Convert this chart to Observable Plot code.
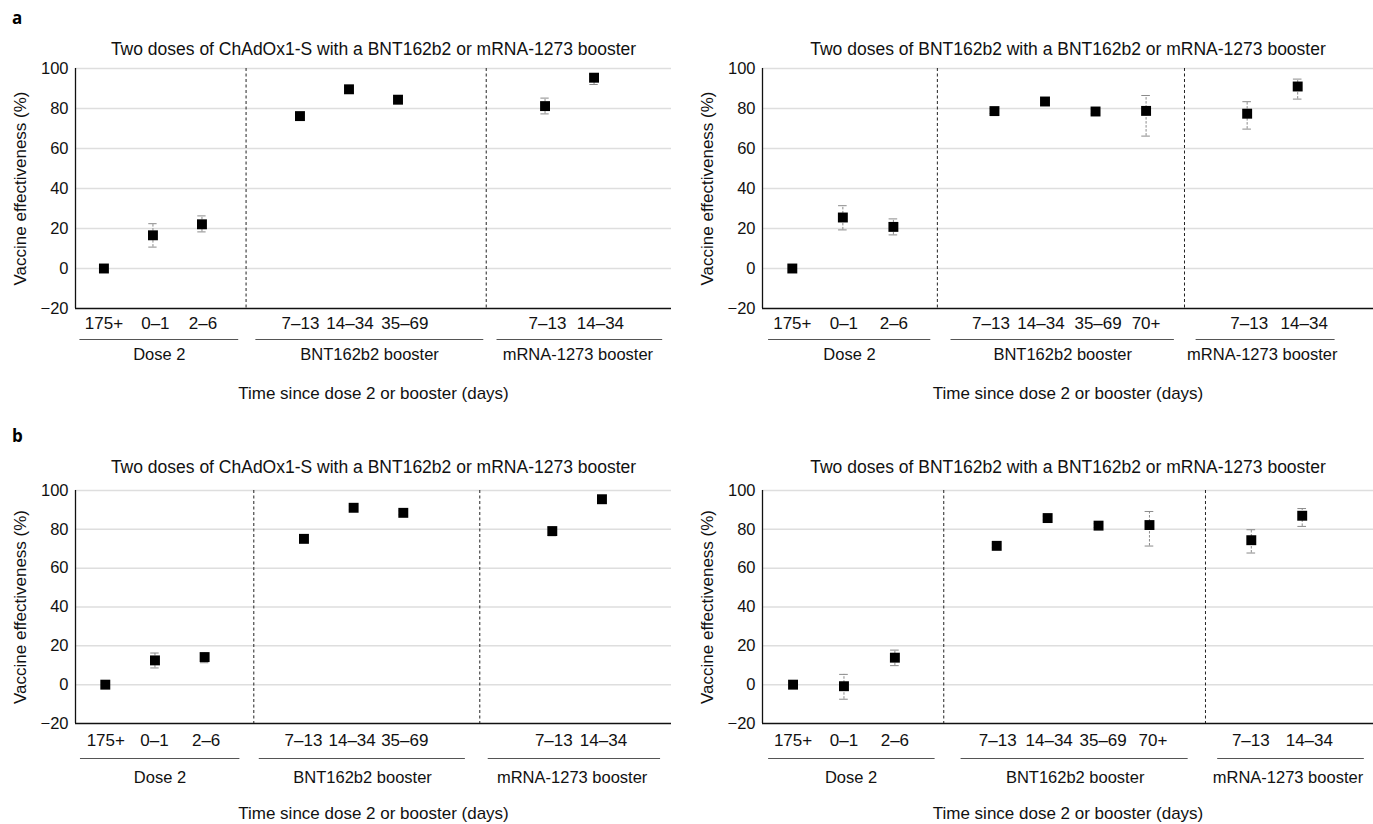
<!DOCTYPE html>
<html>
<head>
<meta charset="utf-8">
<script src="https://cdn.jsdelivr.net/npm/d3@7"></script>
<script src="https://cdn.jsdelivr.net/npm/@observablehq/plot@0.6"></script>
<style>
  html, body { margin: 0; padding: 0; background: #fff; }
  #root { position: relative; width: 1373px; height: 824px; overflow: hidden; font-family: "Liberation Sans", Arial, Helvetica, sans-serif; }
  .panel { position: absolute; }
  .tag { position: absolute; font-family: "Open Sans", "DejaVu Sans", sans-serif; font-weight: 700; font-size: 17px; line-height: 1; }
</style>
</head>
<body>
<div id="root"></div>
<script>
// ---------- data ----------
const titleChAd = "Two doses of ChAdOx1-S with a BNT162b2 or mRNA-1273 booster";
const titleBNT = "Two doses of BNT162b2 with a BNT162b2 or mRNA-1273 booster";
const yLabel = "Vaccine effectiveness (%)";
const xTitle = "Time since dose 2 or booster (days)";
const yTicks = [-20, 0, 20, 40, 60, 80, 100];
const groupNames = ["Dose 2", "BNT162b2 booster", "mRNA-1273 booster"];

// category slots (with empty slots between groups)
const slotsChAd = [0, 1, 2, 4, 5, 6, 9, 10];
const labelsChAd = ["175+", "0–1", "2–6", "7–13", "14–34", "35–69", "7–13", "14–34"];
const slotsBNT = [0, 1, 2, 4, 5, 6, 7, 9, 10];
const labelsBNT = ["175+", "0–1", "2–6", "7–13", "14–34", "35–69", "70+", "7–13", "14–34"];

// panel a, left (ChAdOx1-S)
const aLeftVE = [0, 16.6, 22.1, 76.2, 89.6, 84.4, 81.2, 95.4];
const aLeftLo = [0, 10.7, 18.3, 75.2, 88.6, 83.4, 77.3, 92.0];
const aLeftHi = [0, 22.4, 26.3, 77.2, 90.6, 85.4, 85.2, 97.0];
// panel a, right (BNT162b2)
const aRightVE = [0, 25.5, 20.8, 78.7, 83.5, 78.5, 78.8, 77.4, 91.0];
const aRightLo = [0, 19.3, 16.8, 77.5, 82.3, 77.3, 66.2, 69.7, 84.7];
const aRightHi = [0, 31.4, 24.8, 79.9, 84.7, 79.7, 86.5, 83.4, 94.7];
// panel b, left (ChAdOx1-S)
const bLeftVE = [0, 12.5, 14.2, 75.1, 91.1, 88.5, 79.1, 95.5];
const bLeftLo = [0, 8.6, 11.3, 74.1, 90.1, 87.5, 76.7, 94.5];
const bLeftHi = [0, 16.3, 16.3, 76.1, 92.1, 89.5, 81.1, 96.5];
// panel b, right (BNT162b2)
const bRightVE = [0, -0.8, 13.9, 71.5, 85.8, 81.9, 82.2, 74.4, 87.0];
const bRightLo = [0, -7.5, 9.8, 70.5, 84.8, 80.9, 71.4, 67.8, 81.5];
const bRightHi = [0, 5.3, 17.8, 72.5, 86.8, 82.9, 89.2, 79.8, 90.7];

// ---------- layout (slot units) ----------
const layout = {
  aLeft:  {labelAt: [0, 1.05, 2.02, 4.01, 5.02, 6.14, 9.05, 10.13], gStart: [-0.49, 3.1, 8.02], gEnd: [2.75, 7.75, 11.4], gMid: [1.13, 5.42, 9.67], dividers: [2.9, 7.8], xDomain: [-0.58, 11.58]},
  aRight: {labelAt: [0, 1.02, 2.01, 3.93, 4.92, 6.05, 7.0, 9.04, 10.13], gStart: [-0.47, 3.14, 7.99], gEnd: [2.74, 7.56, 10.74], gMid: [1.13, 5.35, 9.3], dividers: [2.87, 7.76], xDomain: [-0.59, 11.5]},
  bLeft:  {labelAt: [0.01, 0.99, 2.03, 3.99, 4.97, 6.03, 9.03, 10.03], gStart: [-0.5, 3.1, 7.71], gEnd: [2.71, 7.25, 11.18], gMid: [1.1, 5.18, 9.4], dividers: [2.99, 7.54], xDomain: [-0.6, 11.4]},
  bRight: {labelAt: [0, 1.0, 2.0, 4.02, 5.03, 6.09, 7.07, 8.99, 10.14], gStart: [-0.48, 3.3, 8.34], gEnd: [2.79, 7.76, 11.22], gMid: [1.14, 5.54, 9.72], dividers: [2.96, 8.1], xDomain: [-0.6, 11.4]}
};

// ---------- drawing ----------
const FONT = '"Liberation Sans", Arial, Helvetica, sans-serif';

function panel(cfg) {
  const pts = cfg.slots.map((s, i) => ({x: s, label: cfg.labels[i], lx: cfg.labelAt[i], ve: cfg.ve[i], lo: cfg.lo[i], hi: cfg.hi[i]}));
  const bars = pts.filter(d => d.hi - d.lo > 0);
  const groups = groupNames.map((g, i) => ({name: g, x1: cfg.gStart[i], x2: cfg.gEnd[i], xm: cfg.gMid[i]}));
  const capHalf = 0.085;
  const xmin = cfg.xDomain[0];
  const ymin = -20;
  return Plot.plot({
    width: cfg.width,
    height: cfg.height,
    marginTop: cfg.mt,
    marginBottom: cfg.mb,
    marginLeft: cfg.ml,
    marginRight: cfg.mr,
    style: {fontFamily: FONT, background: "white", color: "#111", overflow: "visible"},
    x: {domain: cfg.xDomain, axis: null},
    y: {domain: [ymin, 100], axis: null},
    marks: [
      Plot.ruleY(yTicks.filter(t => t > ymin), {stroke: "#dedede", strokeWidth: 1.5}),
      Plot.ruleX(cfg.dividers, {stroke: "#222", strokeWidth: 1, strokeDasharray: "3,2.5"}),
      Plot.ruleX([xmin], {stroke: "#111", strokeWidth: 1.3}),
      Plot.ruleY([ymin], {stroke: "#111", strokeWidth: 1.3}),
      Plot.axisY({ticks: yTicks, tickSize: 0, tickPadding: 7, fontSize: 16.5, label: null, tickFormat: d => d < 0 ? "\u2212" + Math.abs(d) : String(d)}),
      // category labels
      Plot.text(pts, {x: "lx", y: () => ymin, text: "label", dy: cfg.tickDy, lineAnchor: "middle", fontSize: 17, fill: "#111"}),
      // error bars
      Plot.ruleX(bars, {x: "x", y1: "lo", y2: "hi", stroke: "#8a8a8a", strokeWidth: 1, strokeDasharray: "2.5,1.5"}),
      Plot.ruleY(bars, {y: "lo", x1: d => d.x - capHalf, x2: d => d.x + capHalf, stroke: "#8a8a8a", strokeWidth: 1}),
      Plot.ruleY(bars, {y: "hi", x1: d => d.x - capHalf, x2: d => d.x + capHalf, stroke: "#8a8a8a", strokeWidth: 1}),
      // point estimates
      Plot.dot(pts, {x: "x", y: "ve", symbol: "square", r: 5.6, fill: "black", stroke: "none"}),
      // group brackets below axis
      Plot.ruleY(groups, {y: () => ymin, x1: "x1", x2: "x2", dy: cfg.gLineDy, stroke: "#555", strokeWidth: 1.2}),
      Plot.text(groups, {x: "xm", y: () => ymin, text: "name", dy: cfg.gTextDy, fontSize: 16.5, fill: "#111", lineAnchor: "middle"}),
      // titles
      Plot.text([cfg.title], {frameAnchor: "top", lineAnchor: "middle", dy: cfg.titleDy, fontSize: 17.5, fill: "#111"}),
      Plot.text([xTitle], {frameAnchor: "bottom", lineAnchor: "middle", dy: cfg.xTitleDy, fontSize: 17, fill: "#111"}),
      Plot.text([yLabel], {frameAnchor: "left", textAnchor: "middle", lineAnchor: "middle", rotate: -90, dx: cfg.yLabelDx, fontSize: 17, fill: "#111"})
    ]
  });
}

const root = document.getElementById("root");
function place(el, left, top) {
  el.classList.add("panel");
  el.style.left = left + "px";
  el.style.top = top + "px";
  root.appendChild(el);
}
function tag(text, left, top) {
  const d = document.createElement("div");
  d.className = "tag";
  d.textContent = text;
  d.style.left = left + "px";
  d.style.top = top + "px";
  root.appendChild(d);
}

const topRow = {height: 410, mt: 68, mb: 102, titleDy: -19, tickDy: 15, gLineDy: 31, gTextDy: 46, xTitleDy: 85};
const botRow = {height: 414, mt: 80, mb: 101, titleDy: -23, tickDy: 17, gLineDy: 35, gTextDy: 54, xTitleDy: 90};

place(panel({...topRow, ...layout.aLeft, width: 686, ml: 75, mr: 15, title: titleChAd,
  slots: slotsChAd, labels: labelsChAd, ve: aLeftVE, lo: aLeftLo, hi: aLeftHi, yLabelDx: -55}), 0, 0);
place(panel({...topRow, ...layout.aRight, width: 687, ml: 76, mr: 0, title: titleBNT,
  slots: slotsBNT, labels: labelsBNT, ve: aRightVE, lo: aRightLo, hi: aRightHi, yLabelDx: -55}), 686, 0);
place(panel({...botRow, ...layout.bLeft, width: 686, ml: 75, mr: 15, title: titleChAd,
  slots: slotsChAd, labels: labelsChAd, ve: bLeftVE, lo: bLeftLo, hi: bLeftHi, yLabelDx: -55}), 0, 410);
place(panel({...botRow, ...layout.bRight, width: 687, ml: 76, mr: 0, title: titleBNT,
  slots: slotsBNT, labels: labelsBNT, ve: bRightVE, lo: bRightLo, hi: bRightHi, yLabelDx: -55}), 686, 410);

tag("a", 12, 9);
tag("b", 12, 427);
</script>
</body>
</html>
